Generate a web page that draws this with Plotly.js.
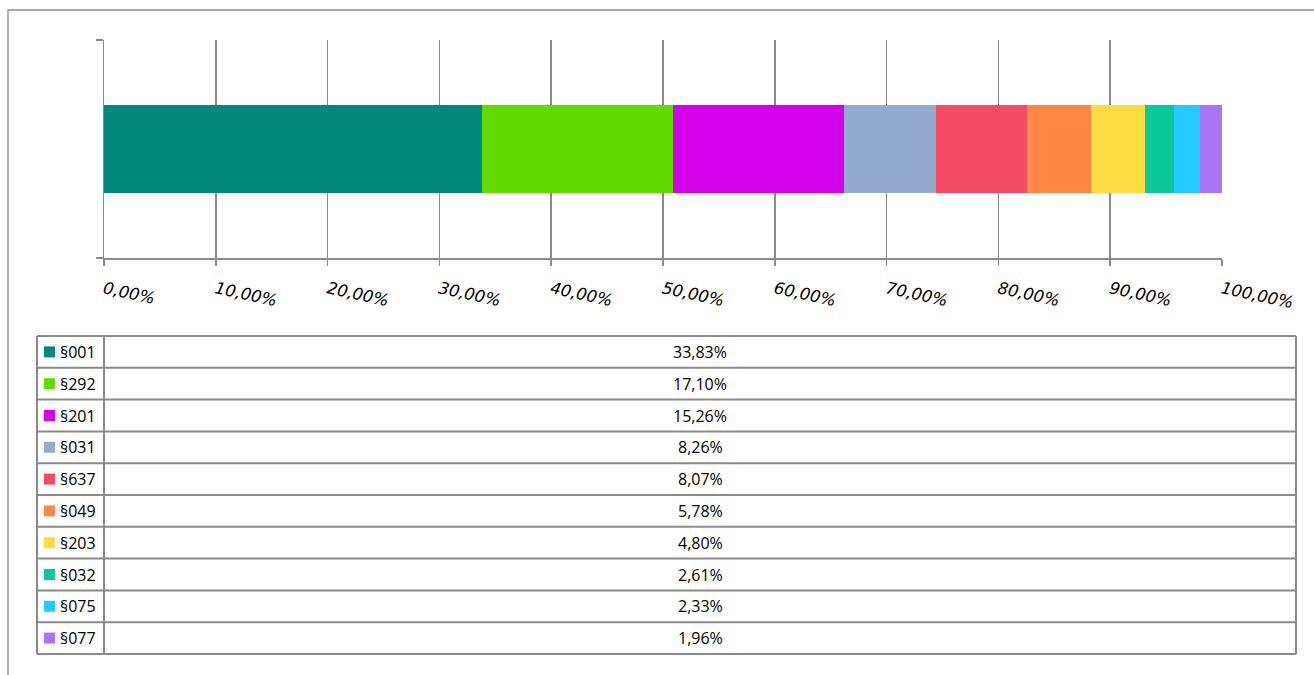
<!DOCTYPE html>
<html>
<head>
<meta charset="utf-8">
<script src="https://cdn.plot.ly/plotly-3.0.1.min.js"></script>
<style>html,body{margin:0;padding:0;background:#fff;}#chart{width:1314px;height:675px;}</style>
</head>
<body>
<div id="chart"></div>
<script>
// ---- data ----
var categories = ["§001", "§292", "§201", "§031", "§637", "§049", "§203", "§032", "§075", "§077"];
var shares = [33.83, 17.10, 15.26, 8.26, 8.07, 5.78, 4.80, 2.61, 2.33, 1.96];
var colors = ["#00897b", "#62d900", "#d500ea", "#93acce", "#f24b63", "#ff8846", "#fcdc42", "#0bc89a", "#23cbff", "#a875f5"];
var xTicks = [0, 10, 20, 30, 40, 50, 60, 70, 80, 90, 100];

// ---- layout geometry (pixels) ----
var W = 1314, H = 675;
var L = 104, R = 1222, T = 40, B = 258;
var pw = R - L, ph = B - T;
function fx(px) { return (px - L) / pw; }
function fy(py) { return (B - py) / ph; }
var gray = "#8a8a8a";

function fmt(v) { return v.toFixed(2).replace(".", ",") + "%"; }

var traces = categories.map(function (c, i) {
  return {
    type: "bar",
    orientation: "h",
    name: c,
    y: [0],
    x: [shares[i]],
    marker: { color: colors[i], line: { width: 0 } },
    hoverinfo: "name+x"
  };
});

// ---- data table below chart ----
var tblTop = 336, rowH = 31.8, tblL = 37, tblC = 104, tblR = 1296;
var tblBot = tblTop + rowH * categories.length;
var tblFont = { family: "Open Sans, Liberation Sans, sans-serif", size: 16, color: "#000" };
var shapes = [];
var annotations = [];
// outer frame
shapes.push({ type: "path", xref: "paper", yref: "paper",
  path: "M " + fx(8) + "," + fy(H + 5) + " L " + fx(8) + "," + fy(10) + " L " + fx(W + 5) + "," + fy(10),
  line: { color: gray, width: 1.3 } });
// table grid
for (var r = 0; r <= categories.length; r++) {
  var yy = tblTop + r * rowH;
  shapes.push({ type: "line", xref: "paper", yref: "paper",
    x0: fx(tblL), x1: fx(tblR), y0: fy(yy), y1: fy(yy), line: { color: gray, width: 2 } });
}
[tblL, tblC, tblR].forEach(function (xx) {
  shapes.push({ type: "line", xref: "paper", yref: "paper",
    x0: fx(xx), x1: fx(xx), y0: fy(tblTop), y1: fy(tblBot), line: { color: gray, width: 2 } });
});
categories.forEach(function (c, i) {
  var cy = tblTop + (i + 0.5) * rowH;
  shapes.push({ type: "rect", xref: "paper", yref: "paper",
    x0: fx(44), x1: fx(55), y0: fy(cy - 5.5), y1: fy(cy + 5.5),
    fillcolor: colors[i], line: { width: 0 } });
  annotations.push({ xref: "paper", yref: "paper", x: fx(58), y: fy(cy), xanchor: "left", yanchor: "middle",
    text: c, showarrow: false, font: tblFont });
  annotations.push({ xref: "paper", yref: "paper", x: fx((tblC + tblR) / 2), y: fy(cy), xanchor: "center", yanchor: "middle",
    text: fmt(shares[i]), showarrow: false, font: tblFont });
});

var layout = {
  width: W, height: H,
  margin: { l: L, r: W - R, t: T, b: H - B, pad: 0 },
  paper_bgcolor: "#fff",
  plot_bgcolor: "#fff",
  barmode: "stack",
  bargap: 0.6,
  showlegend: false,
  xaxis: {
    range: [0, 100],
    tickmode: "array",
    tickvals: xTicks,
    ticktext: xTicks.map(fmt),
    tickangle: 12,
    ticklabelstandoff: 8,
    tickfont: { family: "DejaVu Sans", style: "italic", size: 16.5, color: "#000" },
    showgrid: true, gridcolor: gray, gridwidth: 1.5,
    zeroline: false,
    showline: true, linecolor: gray, linewidth: 1.5,
    ticks: "outside", ticklen: 6, tickcolor: gray, tickwidth: 1.5,
    fixedrange: true
  },
  yaxis: {
    range: [-0.5, 0.5],
    tickvals: [-0.5, 0.5],
    showticklabels: false,
    showgrid: false, zeroline: false,
    showline: true, linecolor: gray, linewidth: 1.5,
    ticks: "outside", ticklen: 7, tickcolor: gray, tickwidth: 1.5,
    fixedrange: true
  },
  shapes: shapes,
  annotations: annotations
};

Plotly.newPlot("chart", traces, layout, { displayModeBar: false, staticPlot: true });
</script>
</body>
</html>
